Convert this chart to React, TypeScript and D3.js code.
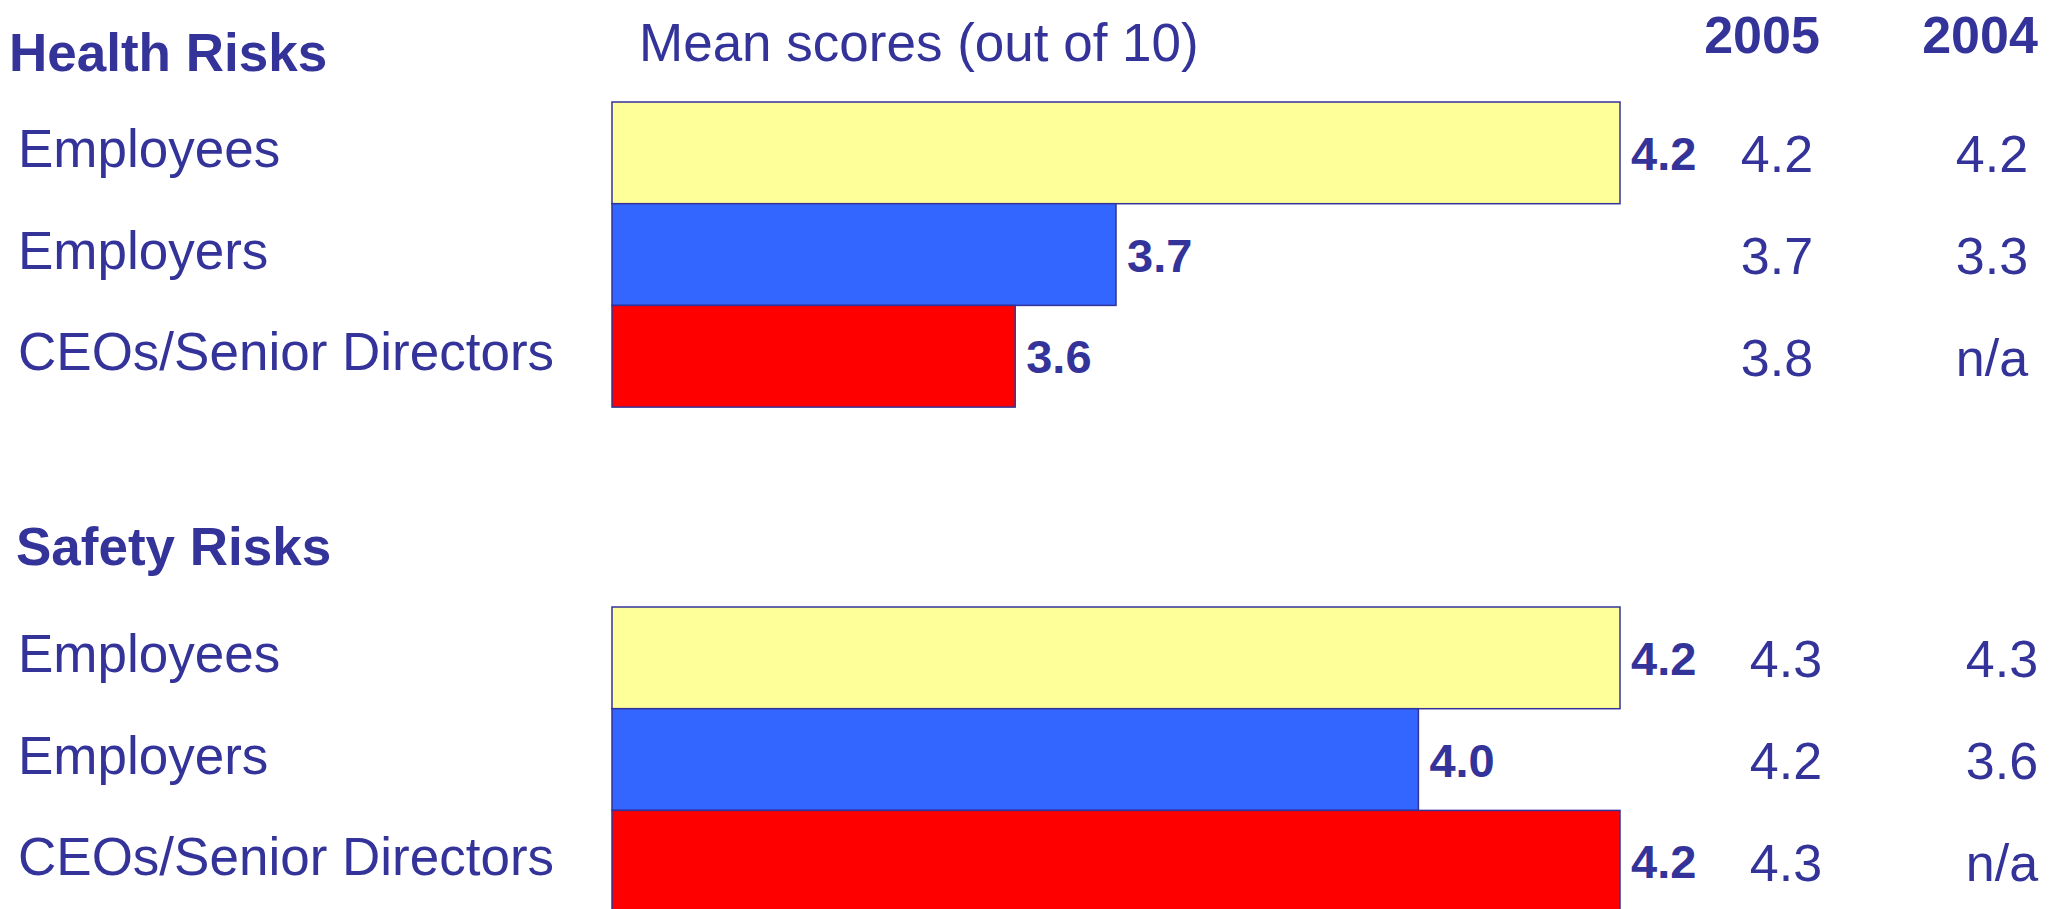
import * as d3 from 'd3';

const WIDTH = 2050;
const HEIGHT = 909;
const TEXT = '#333399';
const FONT = '"Liberation Sans", Arial, sans-serif';

// rows, shared by both panels
const groups = ['Employees', 'Employers', 'CEOs/Senior Directors'];
const barColors = ['#FFFF99', '#3366FF', '#FF0000'];

// mean scores shown as bars
const healthScores = [4.2, 3.7, 3.6];
const safetyScores = [4.2, 4.0, 4.2];

// previous-survey columns
const yearLabels = ['2005', '2004'];
const health2005 = ['4.2', '3.7', '3.8'];
const health2004 = ['4.2', '3.3', 'n/a'];
const safety2005 = ['4.3', '4.2', '4.3'];
const safety2004 = ['4.3', '3.6', 'n/a'];

const SCORE_DOMAIN: [number, number] = [3.2, 4.2];

type PanelProps = {
  title: string;
  titleX: number;
  titleY: number;
  top: number;
  scores: number[];
  col2005: string[];
  col2004: string[];
  colX: [number, number];
};

const xScale = d3.scaleLinear().domain(SCORE_DOMAIN).range([612, 1620]);

const Panel = ({ title, titleX, titleY, top, scores, col2005, col2004, colX }: PanelProps) => {
  const yScale = d3.scaleBand().domain(groups).range([top, top + 3 * 101.7]).padding(0);
  const bw = yScale.bandwidth();

  return (
    <g>
      <text x={titleX} y={titleY} fontSize={53} fontWeight="bold" fill={TEXT}>
        {title}
      </text>
      {groups.map((g, i) => {
        const y0 = yScale(g)!;
        const cy = y0 + bw / 2;
        const x1 = xScale(scores[i]);
        return (
          <g key={g}>
            <text x={18} y={cy + 14} fontSize={53} fill={TEXT}>
              {g}
            </text>
            <rect
              x={xScale(SCORE_DOMAIN[0])}
              y={y0}
              width={x1 - xScale(SCORE_DOMAIN[0])}
              height={bw}
              fill={barColors[i]}
              stroke={TEXT}
              strokeWidth={1.5}
            />
            <text x={x1 + 11} y={cy + 17} fontSize={47} fontWeight="bold" fill={TEXT}>
              {d3.format('.1f')(scores[i])}
            </text>
            <text x={colX[0]} y={cy + 19.5} fontSize={52} fill={TEXT} textAnchor="middle">
              {col2005[i]}
            </text>
            <text x={colX[1]} y={cy + 19.5} fontSize={52} fill={TEXT} textAnchor="middle">
              {col2004[i]}
            </text>
          </g>
        );
      })}
    </g>
  );
};

export default function App() {
  return (
    <svg
      width={WIDTH}
      height={HEIGHT}
      style={{ position: 'absolute', left: 0, top: 0, background: '#fff' }}
      fontFamily={FONT}
    >
      <rect width={WIDTH} height={HEIGHT} fill="#fff" />
      <text x={639} y={61} fontSize={53} fill={TEXT}>
        Mean scores (out of 10)
      </text>
      {yearLabels.map((yr, i) => (
        <text key={yr} x={[1762, 1980][i]} y={53} fontSize={52} fontWeight="bold" fill={TEXT} textAnchor="middle">
          {yr}
        </text>
      ))}
      <Panel
        title="Health Risks"
        titleX={9}
        titleY={71}
        top={102}
        scores={healthScores}
        col2005={health2005}
        col2004={health2004}
        colX={[1777, 1992]}
      />
      <Panel
        title="Safety Risks"
        titleX={16}
        titleY={565}
        top={607}
        scores={safetyScores}
        col2005={safety2005}
        col2004={safety2004}
        colX={[1786, 2002]}
      />
    </svg>
  );
}
